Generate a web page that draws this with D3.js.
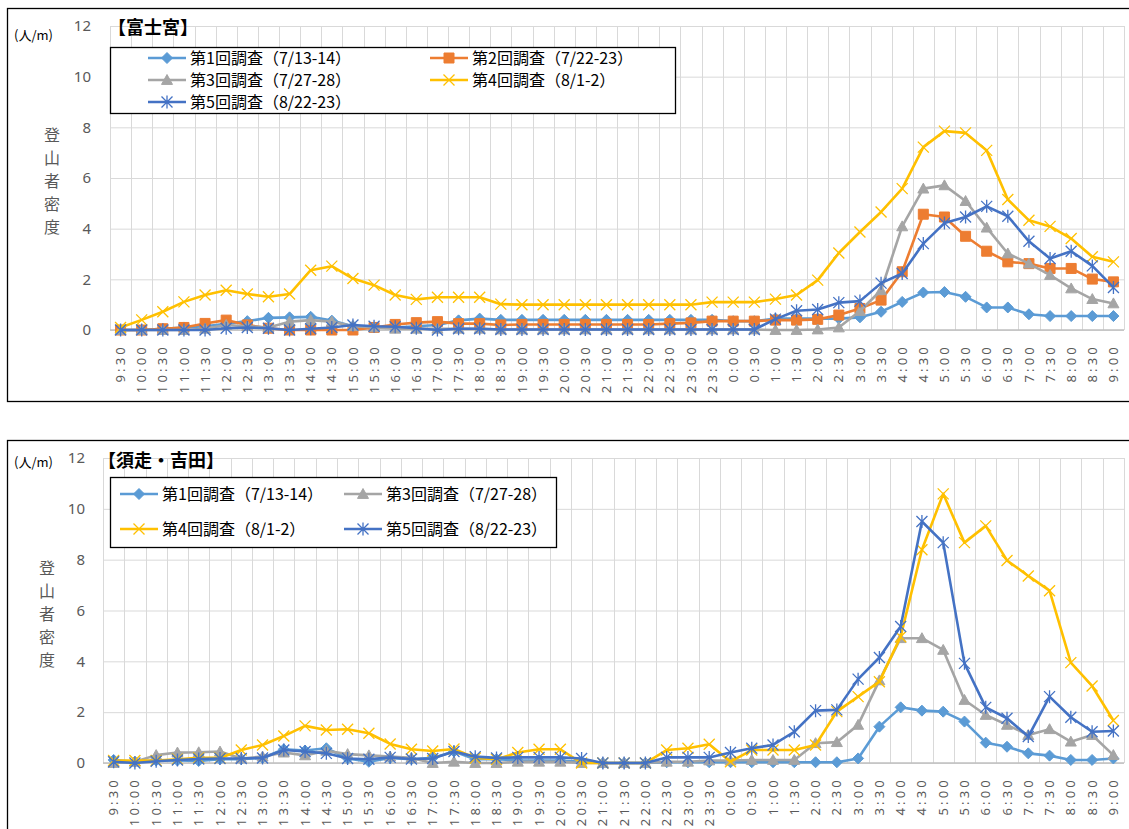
<!DOCTYPE html>
<html><head><meta charset="utf-8">
<script src="https://cdn.jsdelivr.net/npm/d3@7"></script>
<style>
html,body{margin:0;padding:0;background:#fff;}
svg{display:block;}
text{font-family:"Noto Sans CJK JP","Noto Sans",sans-serif;}
</style></head>
<body>
<div id="chart"></div>
<script>
// ---------- DATA ----------
const times = ["9:30","10:00","10:30","11:00","11:30","12:00","12:30","13:00","13:30","14:00","14:30","15:00","15:30","16:00","16:30","17:00","17:30","18:00","18:30","19:00","19:30","20:00","20:30","21:00","21:30","22:00","22:30","23:00","23:30","0:00","0:30","1:00","1:30","2:00","2:30","3:00","3:30","4:00","4:30","5:00","5:30","6:00","6:30","7:00","7:30","8:00","8:30","9:00"];
const yTicks = [0,2,4,6,8,10,12];
const seriesNames = ["第1回調査（7/13-14）","第2回調査（7/22-23）","第3回調査（7/27-28）","第4回調査（8/1-2）","第5回調査（8/22-23）"];

// 富士宮
const fuji1 = [0,0,0.05,0.1,0.15,0.25,0.35,0.48,0.5,0.52,0.37,0.15,0.1,0.1,0.15,0.2,0.38,0.45,0.4,0.4,0.4,0.4,0.4,0.4,0.4,0.4,0.4,0.4,0.4,0.35,0.35,0.45,0.45,0.45,0.45,0.5,0.72,1.11,1.48,1.5,1.31,0.89,0.89,0.62,0.55,0.55,0.55,0.55];
const fuji2 = [0,0,0.05,0.1,0.26,0.39,0.2,0.07,0,0,0,0,0.1,0.22,0.29,0.33,0.25,0.25,0.2,0.22,0.22,0.22,0.22,0.22,0.22,0.22,0.25,0.28,0.35,0.35,0.35,0.39,0.39,0.42,0.59,0.85,1.18,2.3,4.57,4.46,3.7,3.11,2.69,2.62,2.43,2.43,2.01,1.9];
const fuji3 = [0,0,0,0,0.05,0.2,0.15,0.1,0.33,0.39,0.33,0.15,0.1,0.05,0.05,0.05,0.05,0.05,0.02,0.02,0.02,0.02,0.02,0.02,0.02,0.02,0.02,0.02,0.02,0.02,0.02,0,0,0.02,0.1,0.75,1.57,4.09,5.58,5.71,5.09,4.04,3.02,2.62,2.17,1.64,1.22,1.05];
const fuji4 = [0.1,0.4,0.72,1.11,1.38,1.57,1.42,1.31,1.42,2.36,2.52,2.03,1.77,1.38,1.21,1.29,1.29,1.29,1.02,1,1,1,1,1,1,1,1,1,1.1,1.1,1.1,1.22,1.38,1.97,3.04,3.87,4.66,5.58,7.22,7.85,7.78,7.09,5.15,4.33,4.09,3.61,2.89,2.69];
const fuji5 = [0,0,0,0,0,0.07,0.1,0.07,0,0.05,0.1,0.2,0.15,0.13,0.07,0,0.05,0.05,0.02,0.02,0.02,0.02,0.02,0.02,0.02,0.02,0.02,0.02,0.02,0.02,0.02,0.43,0.76,0.81,1.08,1.14,1.85,2.23,3.41,4.22,4.46,4.88,4.49,3.5,2.82,3.11,2.53,1.68];

// 須走・吉田
const suba1 = [0.12,0.05,0.1,0.1,0.08,0.15,0.15,0.2,0.54,0.49,0.58,0.18,0.05,0.2,0.15,0.2,0.45,0.15,0.15,0.1,0.1,0.1,0.05,0,0,0,0.03,0.03,0.03,0.03,0.03,0.03,0.03,0.03,0.03,0.18,1.43,2.19,2.06,2.02,1.63,0.8,0.64,0.38,0.29,0.12,0.12,0.18];
const suba3 = [0,0.05,0.31,0.41,0.42,0.45,0.18,0.25,0.41,0.3,0.48,0.35,0.3,0.25,0.2,0,0.05,0,0,0.05,0.05,0.05,0,0,0,0,0.05,0.05,0.1,0.1,0.12,0.12,0.12,0.78,0.82,1.5,3.25,4.91,4.91,4.45,2.48,1.89,1.5,1.1,1.33,0.84,1.1,0.31];
const suba4 = [0.1,0.1,0.1,0.15,0.2,0.2,0.51,0.71,1.06,1.46,1.3,1.33,1.17,0.75,0.54,0.47,0.55,0.2,0.15,0.41,0.54,0.54,0,0,0,0,0.51,0.58,0.74,0.05,0.51,0.51,0.51,0.71,2.02,2.61,3.2,4.97,8.39,10.59,8.67,9.33,7.97,7.36,6.78,3.95,3.03,1.67];
const suba5 = [0.05,0,0.07,0.12,0.16,0.18,0.18,0.2,0.51,0.45,0.38,0.18,0.15,0.22,0.16,0.18,0.45,0.25,0.2,0.22,0.22,0.22,0.18,0,0,0,0.22,0.22,0.22,0.41,0.58,0.71,1.23,2.06,2.09,3.3,4.15,5.37,9.5,8.67,3.92,2.19,1.76,1.04,2.61,1.8,1.23,1.26];

// ---------- STYLES ----------
const styles = [
  {color:"#5B9BD5", marker:"diamond"},
  {color:"#ED7D31", marker:"square"},
  {color:"#A5A5A5", marker:"triangle"},
  {color:"#FFC000", marker:"x"},
  {color:"#4472C4", marker:"star"}
];
function markerPath(type){
  const p = d3.path();
  if(type==="diamond"){ const r=5.5; p.moveTo(0,-r);p.lineTo(r,0);p.lineTo(0,r);p.lineTo(-r,0);p.closePath(); }
  else if(type==="square"){ const r=5; p.rect(-r,-r,2*r,2*r); }
  else if(type==="triangle"){ const r=5.5; p.moveTo(0,-r);p.lineTo(r,r*0.8);p.lineTo(-r,r*0.8);p.closePath(); }
  else if(type==="x"){ const r=5.5; p.moveTo(-r,-r);p.lineTo(r,r);p.moveTo(-r,r);p.lineTo(r,-r); }
  else if(type==="star"){ const r=5.5; p.moveTo(-r,-r);p.lineTo(r,r);p.moveTo(-r,r);p.lineTo(r,-r);p.moveTo(0,-r-1);p.lineTo(0,r+1); }
  return p.toString();
}
function styleMarker(sel, st){
  if(st.marker==="x"||st.marker==="star"){
    sel.attr("fill","none").attr("stroke",st.color).attr("stroke-width",1.3);
  } else {
    sel.attr("fill",st.color).attr("stroke",st.color).attr("stroke-width",1);
  }
}

const panels = [
  {
    title:"【富士宮】", series:[fuji1,fuji2,fuji3,fuji4,fuji5], idx:[0,1,2,3,4],
    frame:{x:7.5,y:8.5,w:1140,h:393},
    plot:{l:110,r:1124,t:26,b:330}, yTickX:91, xLabelY:344,
    titlePos:[108,34], unitPos:[14,40], ylabX:52, ylabY:[135,158,181,204,227],
    legend:{x:110.5,y:47.5,w:565,h:66, cols:[148,430], rows:[58,80,102], order:[0,1,2,3,4]}
  },
  {
    title:"【須走・吉田】", series:[suba1,suba3,suba4,suba5], idx:[0,2,3,4],
    frame:{x:7.5,y:440.5,w:1140,h:500},
    plot:{l:103,r:1124,t:458,b:763}, yTickX:85, xLabelY:777,
    titlePos:[98,467], unitPos:[14,467], ylabX:47, ylabY:[568,591,614,637,660],
    legend:{x:110.5,y:477.5,w:446,h:70, cols:[120,344], rows:[494,529], order:[0,1,2,3]}
  }
];

const svg = d3.select("#chart").append("svg").attr("width",1129).attr("height",829);

panels.forEach(P=>{
  const g = svg.append("g");
  g.append("rect").attr("x",P.frame.x).attr("y",P.frame.y).attr("width",P.frame.w).attr("height",P.frame.h)
    .attr("fill","#fff").attr("stroke","#000").attr("stroke-width",1.3);

  const x = d3.scaleBand().domain(times).range([P.plot.l,P.plot.r]).padding(0);
  const y = d3.scaleLinear().domain([0,12]).range([P.plot.b,P.plot.t]);
  const bw = x.bandwidth();

  // horizontal gridlines
  const gy = g.append("g").attr("transform",`translate(${P.plot.l},0)`)
    .call(d3.axisLeft(y).tickValues(yTicks).tickSize(-(P.plot.r-P.plot.l)).tickFormat(""));
  gy.select(".domain").remove();
  gy.selectAll("line").attr("stroke","#D9D9D9").attr("stroke-width",1);
  // vertical gridlines at category boundaries
  const bounds = times.map(t=>x(t)).concat([x.range()[1]]);
  g.append("g").selectAll("line").data(bounds).join("line")
    .attr("x1",d=>Math.round(d)+0.5).attr("x2",d=>Math.round(d)+0.5)
    .attr("y1",y(12)).attr("y2",y(0))
    .attr("stroke","#D9D9D9").attr("stroke-width",1);
  // bottom axis line
  g.append("line").attr("x1",P.plot.l).attr("x2",P.plot.r).attr("y1",y(0)).attr("y2",y(0))
    .attr("stroke","#BFBFBF").attr("stroke-width",1.3);

  // y tick labels
  const yl = g.append("g").attr("transform",`translate(${P.yTickX},0)`)
    .call(d3.axisLeft(y).tickValues(yTicks).tickSize(0).tickPadding(0));
  yl.select(".domain").remove();
  yl.selectAll("text").attr("fill","#595959").style("font-size","15px")
    .style("font-family","'Noto Sans','Noto Sans CJK JP',sans-serif");

  // x tick labels (rotated)
  const xl = g.append("g").attr("transform",`translate(0,${P.xLabelY})`)
    .call(d3.axisBottom(x).tickSize(0).tickPadding(0));
  xl.select(".domain").remove();
  xl.selectAll("text")
    .attr("fill","#595959").style("font-size","13px").style("letter-spacing","3.2px")
    .style("font-family","'Noto Sans','Noto Sans CJK JP',sans-serif")
    .attr("text-anchor","end").attr("transform","rotate(-90)")
    .attr("x",0).attr("y",0).attr("dx","0").attr("dy","0.35em");

  // series
  P.series.forEach((vals,k)=>{
    const st = styles[P.idx[k]];
    g.append("path").datum(vals)
      .attr("d", d3.line().x((v,i)=>x(times[i])+bw/2).y(v=>y(v)))
      .attr("fill","none").attr("stroke",st.color).attr("stroke-width",2.6).attr("stroke-linejoin","round");
    const m = g.append("g").selectAll("path").data(vals).join("path")
      .attr("d",markerPath(st.marker))
      .attr("transform",(v,i)=>`translate(${x(times[i])+bw/2},${y(v)})`);
    styleMarker(m, st);
  });

  // title
  g.append("text").attr("x",P.titlePos[0]).attr("y",P.titlePos[1])
    .style("font-size","18px").style("font-weight","bold").attr("fill","#000").text(P.title);
  // unit
  g.append("text").attr("x",P.unitPos[0]).attr("y",P.unitPos[1])
    .style("font-size","13px").attr("fill","#000").text("(人/m)");
  // y axis title (vertical)
  const ylab = "登山者密度".split("");
  g.append("g").selectAll("text").data(ylab).join("text")
    .attr("x",P.ylabX).attr("y",(d,i)=>P.ylabY[i]).attr("text-anchor","middle").attr("dy","0.35em")
    .style("font-size","16px").attr("fill","#595959").text(d=>d);

  // legend
  const L = P.legend;
  g.append("rect").attr("x",L.x).attr("y",L.y).attr("width",L.w).attr("height",L.h)
    .attr("fill","#fff").attr("stroke","#000").attr("stroke-width",1.3);
  L.order.forEach((k,j)=>{
    const si = P.idx[k];
    const st = styles[si];
    const cx = L.cols[j%2], cy = L.rows[Math.floor(j/2)];
    g.append("line").attr("x1",cx).attr("x2",cx+38).attr("y1",cy).attr("y2",cy)
      .attr("stroke",st.color).attr("stroke-width",2.6);
    const mk = g.append("path").attr("d",markerPath(st.marker)).attr("transform",`translate(${cx+19},${cy})`);
    styleMarker(mk, st);
    g.append("text").attr("x",cx+42).attr("y",cy).attr("dy","0.36em")
      .style("font-size","16px").attr("fill","#000").text(seriesNames[si]);
  });
});
</script>
</body></html>
